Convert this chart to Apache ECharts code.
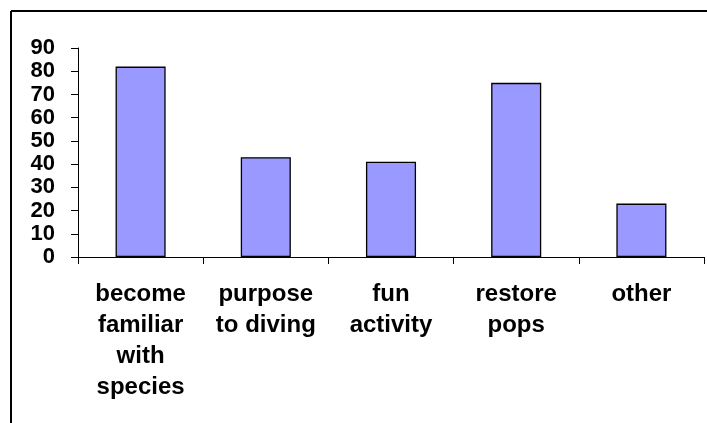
<!DOCTYPE html>
<html>
<head>
<meta charset="utf-8">
<script src="https://cdn.jsdelivr.net/npm/echarts@6/dist/echarts.min.js"></script>
<style>html,body{margin:0;padding:0;background:#fff}#c{width:707px;height:423px}</style>
</head>
<body>
<div id="c"></div>
<script>
var categories = ['become\nfamiliar\nwith\nspecies', 'purpose\nto diving', 'fun\nactivity', 'restore\npops', 'other'];
var values = [82, 43, 41, 75, 23];
var yTicks = [0, 10, 20, 30, 40, 50, 60, 70, 80, 90];

var chart = echarts.init(document.getElementById('c'), null, {renderer: 'canvas'});
chart.setOption({
  animation: false,
  backgroundColor: '#fff',
  grid: {left: 78, right: 3, top: 48, bottom: 166, containLabel: false},
  xAxis: {
    type: 'category',
    data: categories,
    axisLine: {lineStyle: {color: '#000', width: 1}},
    axisTick: {show: true, length: 7, lineStyle: {color: '#000'}},
    axisLabel: {
      interval: 0, margin: 22,
      fontFamily: 'Liberation Sans', fontWeight: 'bold', fontSize: 24, lineHeight: 31,
      color: '#000', align: 'center'
    }
  },
  yAxis: {
    type: 'value',
    min: yTicks[0], max: yTicks[yTicks.length - 1], interval: 10,
    splitLine: {show: false},
    axisLine: {show: true, lineStyle: {color: '#000', width: 1}},
    axisTick: {show: true, length: 7, lineStyle: {color: '#000'}},
    axisLabel: {margin: 23, fontFamily: 'Liberation Sans', fontWeight: 'bold', fontSize: 22, color: '#000'}
  },
  series: [{
    type: 'bar',
    data: values,
    barWidth: '40%',
    itemStyle: {color: '#9999FF', borderColor: '#000', borderWidth: 1.3}
  }],
  graphic: [
    {type: 'line', shape: {x1: 11, y1: 11, x2: 707, y2: 11}, style: {stroke: '#000', lineWidth: 2}},
    {type: 'line', shape: {x1: 11, y1: 11, x2: 11, y2: 423}, style: {stroke: '#000', lineWidth: 2}}
  ]
});
</script>
</body>
</html>
